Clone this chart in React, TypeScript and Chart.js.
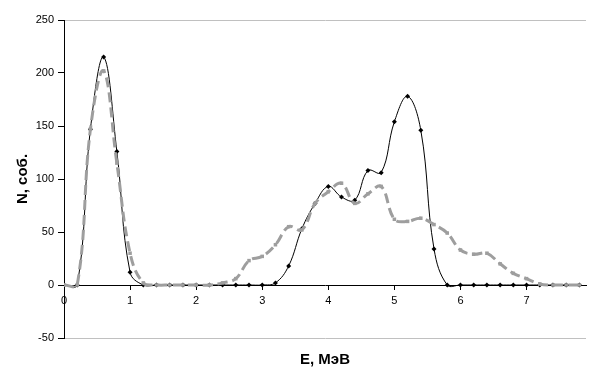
import React, { useEffect, useRef } from "react";
import { Chart, registerables } from "chart.js";

Chart.register(...registerables);

// Energy, MeV
const energy = [
  0, 0.2, 0.4, 0.6, 0.8, 1.0, 1.2, 1.4, 1.6, 1.8,
  2.0, 2.2, 2.4, 2.6, 2.8, 3.0, 3.2, 3.4, 3.6, 3.8,
  4.0, 4.2, 4.4, 4.6, 4.8, 5.0, 5.2, 5.4, 5.6, 5.8,
  6.0, 6.2, 6.4, 6.6, 6.8, 7.0, 7.2, 7.4, 7.6, 7.8,
];

// Solid black series (N, events)
const seriesBlack = [
  0, 0, 147, 215, 126, 12, 0, 0, 0, 0,
  0, 0, 0, 0, 0, 0, 2, 18, 53, 77,
  93, 83, 80, 108, 106, 154, 178, 146, 34, 0,
  0, 0, 0, 0, 0, 0, 0, 0, 0, 0,
];

// Dashed grey series (N, events)
const seriesGray = [
  0, 0, 147, 202, 115, 30, 2, 0, 0, 0,
  0, 0, 2, 6, 23, 27, 38, 55, 52, 77,
  88, 96, 77, 86, 93, 62, 60, 63, 57, 49,
  33, 29, 30, 20, 11, 6, 1, 0, 0, 0,
];

const xTicks = [0, 1, 2, 3, 4, 5, 6, 7];
const yTicks = [-50, 0, 50, 100, 150, 200, 250];

const xTitle = "E, МэВ";
const yTitle = "N, соб.";

const FONT = "'Liberation Sans', Arial, sans-serif";

export default function App() {
  const ref = useRef<HTMLCanvasElement>(null);

  useEffect(() => {
    const canvas = ref.current;
    if (!canvas) return;
    const chart = new Chart(canvas, {
      type: "line",
      data: {
        datasets: [
          {
            label: "black",
            data: energy.map((e, i) => ({ x: e, y: seriesBlack[i] })),
            xAxisID: "x",
            yAxisID: "y",
            borderColor: "#000000",
            backgroundColor: "#000000",
            borderWidth: 1,
            pointStyle: "rectRot",
            pointRadius: 2.5,
            pointBorderWidth: 0,
            pointBackgroundColor: "#000000",
            tension: 0.4,
            fill: false,
            order: 1,
          },
          {
            label: "gray",
            data: energy.map((e, i) => ({ x: e, y: seriesGray[i] })),
            xAxisID: "x",
            yAxisID: "y",
            borderColor: "#9e9e9e",
            backgroundColor: "#9e9e9e",
            borderWidth: 3,
            borderDash: [10, 5],
            pointStyle: "rect",
            pointRadius: 2.5,
            pointBorderWidth: 0,
            pointBackgroundColor: "#9e9e9e",
            tension: 0.4,
            fill: false,
            order: 0,
          },
        ],
      },
      options: {
        animation: false,
        responsive: false,
        layout: { padding: { top: 20, left: 0, right: 0, bottom: 0 } },
        plugins: {
          legend: { display: false },
          tooltip: { enabled: false },
        },
        scales: {
          x: {
            type: "linear",
            axis: "x",
            position: { y: 0 } as any,
            min: 0,
            max: 7.9,
            afterBuildTicks: (s: any) => {
              s.ticks = xTicks.map((v) => ({ value: v }));
            },
            ticks: {
              color: "#000000",
              font: { family: FONT, size: 11 },
              padding: 5,
              maxRotation: 0,
              includeBounds: false,
            },
            grid: {
              drawOnChartArea: false,
              drawTicks: true,
              tickLength: 4,
              color: "#000000",
            },
            border: { display: true, color: "#000000", width: 1 },
          },
          xt: {
            type: "linear",
            axis: "x",
            position: "bottom",
            min: 0,
            max: 1,
            grid: { display: false, drawTicks: false, tickLength: 0 },
            border: { display: false },
            ticks: { display: false },
            title: {
              display: true,
              text: xTitle,
              color: "#000000",
              font: { family: FONT, size: 15, weight: "bold" },
              padding: { top: 13, bottom: 0 },
            },
          },
          y: {
            type: "linear",
            position: "left",
            min: -50,
            max: 250,
            afterBuildTicks: (s: any) => {
              s.ticks = yTicks.map((v) => ({ value: v }));
            },
            afterFit: (s: any) => {
              s.width = 64;
            },
            ticks: {
              color: "#000000",
              font: { family: FONT, size: 11 },
              padding: 4,
            },
            grid: {
              drawOnChartArea: true,
              drawTicks: true,
              tickLength: 6,
              color: (ctx: any) =>
                ctx.tick && (ctx.tick.value === 250 || ctx.tick.value === -50)
                  ? "#c0c0c0"
                  : "rgba(0,0,0,0)",
              tickColor: "#000000",
            },
            border: { display: true, color: "#000000", width: 1 },
            title: {
              display: true,
              text: yTitle,
              color: "#000000",
              font: { family: FONT, size: 15, weight: "bold" },
              padding: { top: 14, bottom: 0 },
            },
          },
        },
      },
    });
    return () => chart.destroy();
  }, []);

  return (
    <div
      style={{
        position: "fixed",
        left: 0,
        top: 0,
        width: 590,
        height: 369,
        background: "#ffffff",
      }}
    >
      <canvas ref={ref} width={590} height={369} style={{ display: "block" }} />
    </div>
  );
}
